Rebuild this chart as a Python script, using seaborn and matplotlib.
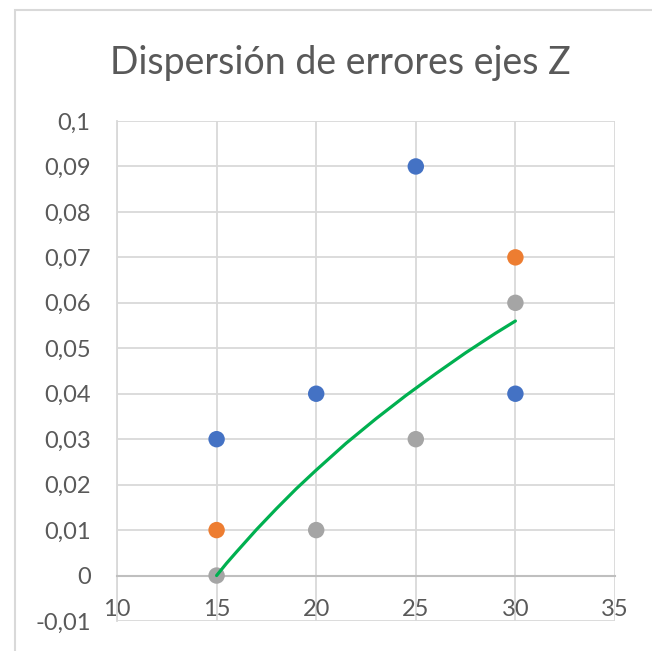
import matplotlib.pyplot as plt
import matplotlib.patches as mpatches
import pandas as pd
import seaborn as sns

# Series values
blue_x = [15, 20, 25, 30]
blue_y = [0.03, 0.04, 0.09, 0.04]
orange_x = [15, 30]
orange_y = [0.01, 0.07]
gray_x = [15, 20, 25, 30]
gray_y = [0.0, 0.01, 0.03, 0.06]

# Trend line
trend_x = [15, 15.5, 16, 17, 18, 19, 20, 21.5, 23, 24.5, 26, 27.5, 29, 30]
trend_y = [0.0, 0.0027, 0.0052, 0.0101, 0.0147, 0.0191, 0.0232, 0.0291,
           0.0345, 0.0396, 0.0444, 0.049, 0.0533, 0.056]

x_ticks = [10, 15, 20, 25, 30, 35]
y_ticks = [-0.01, 0, 0.01, 0.02, 0.03, 0.04, 0.05, 0.06, 0.07, 0.08, 0.09, 0.1]

df = pd.DataFrame({
    "x": blue_x + orange_x + gray_x,
    "y": blue_y + orange_y + gray_y,
    "serie": ["A"] * len(blue_x) + ["B"] * len(orange_x) + ["C"] * len(gray_x),
})
trend = pd.DataFrame({"x": trend_x, "y": trend_y})

sns.set_style("white")
plt.rcParams["font.family"] = ["Lato", "DejaVu Sans"]

fig = plt.figure(figsize=(6.52, 6.51), dpi=100)
ax = fig.add_axes([117 / 652, 1 - 621 / 651, 498 / 652, 500 / 651])

# outer chart border
fig.patches.append(mpatches.Rectangle((15 / 652, -0.1), 1.2, 1 - 10 / 651 + 0.1,
                                      transform=fig.transFigure, fill=False,
                                      edgecolor="#d9d9d9", linewidth=1.5))

sns.scatterplot(data=df, x="x", y="y", hue="serie",
                palette={"A": "#4472C4", "B": "#ED7D31", "C": "#A5A5A5"},
                s=140, edgecolor="none", legend=False, ax=ax, zorder=3)
sns.lineplot(data=trend, x="x", y="y", color="#00B050", linewidth=2.3,
             ax=ax, zorder=4)

ax.set_xlim(10, 35)
ax.set_ylim(-0.01, 0.1)
ax.set_xticks(x_ticks)
ax.set_yticks(y_ticks)
ax.set_xticklabels([str(v) for v in x_ticks])
ax.set_yticklabels(["-0,01", "0"] + [f"{v:.2f}".replace(".", ",").rstrip("0") for v in y_ticks[2:]])
ax.grid(True, color="#d9d9d9", linewidth=1.3)
ax.set_axisbelow(True)
for side in ["top", "right"]:
    ax.spines[side].set_visible(False)
ax.spines["bottom"].set_position(("data", 0))
ax.spines["bottom"].set_color("#bfbfbf")
ax.spines["bottom"].set_linewidth(1.5)
ax.spines["left"].set_color("#d9d9d9")
ax.spines["left"].set_linewidth(1.3)
ax.tick_params(axis="x", length=0, pad=17, labelsize=17, labelcolor="#595959")
ax.tick_params(axis="y", length=0, pad=19, labelsize=17, labelcolor="#595959")
ax.set_xlabel("")
ax.set_ylabel("")

fig.text(340 / 652, 1 - 63 / 651, "Dispersión de errores ejes Z", ha="center", va="center",
         fontsize=27, color="#595959")

fig.savefig("out.png", dpi=100)
